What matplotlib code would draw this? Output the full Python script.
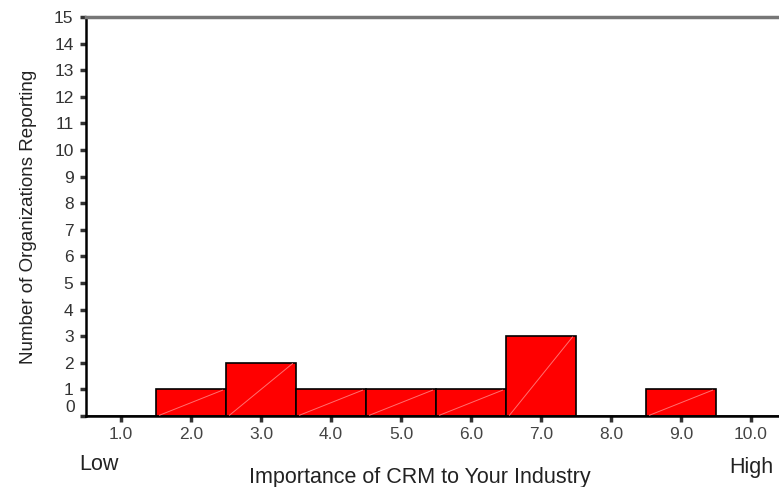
import matplotlib
matplotlib.use("Agg")
import matplotlib.pyplot as plt
import numpy as np

# importance score bins and organization counts
scores = [1, 2, 3, 4, 5, 6, 7, 8, 9, 10]
counts = [0, 1, 2, 1, 1, 1, 3, 0, 1, 0]
x_ticklabels = ["1.0", "2.0", "3.0", "4.0", "5.0", "6.0", "7.0", "8.0", "9.0", "10.0"]
y_ticks = list(range(0, 16))

plt.rcParams['font.family'] = ['Liberation Sans', 'DejaVu Sans']

fig = plt.figure(figsize=(7.79, 4.87), dpi=100)
ax = fig.add_axes([86 / 779, 1 - 416 / 487, 700 / 779, 399 / 487])

ax.bar(scores, counts, width=1.0, color='#ff0000', edgecolor='black', linewidth=1.2, zorder=2)
# faint diagonal streak inside each bar
for s, c in zip(scores, counts):
    if c > 0:
        ax.plot([s - 0.45, s + 0.45], [0.03, c - 0.03], color='#ff7070', lw=0.7, zorder=3)

ax.set_xlim(0.5, 10.5)
ax.set_ylim(0, 15)
ax.set_xticks(scores)
ax.set_xticklabels(x_ticklabels, fontsize=12.5, color='#444444')
ax.set_yticks(y_ticks)
ax.set_yticklabels([""] + [str(v) for v in y_ticks[1:]], fontsize=12.5, color='#333333')
ax.annotate("0", xy=(0, 0), xycoords=('axes fraction', 'data'), xytext=(-8, 6),
            textcoords='offset points', ha='right', va='center', fontsize=12.5, color='#333333')

ax.spines['right'].set_visible(False)
ax.spines['top'].set_color('#777777')
ax.spines['top'].set_linewidth(2.5)
ax.spines['left'].set_linewidth(1.8)
ax.spines['bottom'].set_linewidth(1.8)
ax.tick_params(axis='both', direction='out', length=4, width=2.5, color='#333333')
ax.tick_params(axis='x', pad=4)
ax.tick_params(axis='y', pad=5)

ax.set_ylabel("Number of Organizations Reporting", fontsize=13.5, color='#222222', labelpad=12)
fig.text(420 / 779, 1 - 477 / 487, "Importance of CRM to Your Industry", fontsize=15.5,
         ha='center', va='center', color='#222222')
fig.text(79 / 779, 1 - 465 / 487, "Low", fontsize=15.5, ha='left', va='center', color='#222222')
fig.text(729 / 779, 1 - 468 / 487, "High", fontsize=15.5, ha='left', va='center', color='#222222')

fig.savefig("out.png", dpi=100)
